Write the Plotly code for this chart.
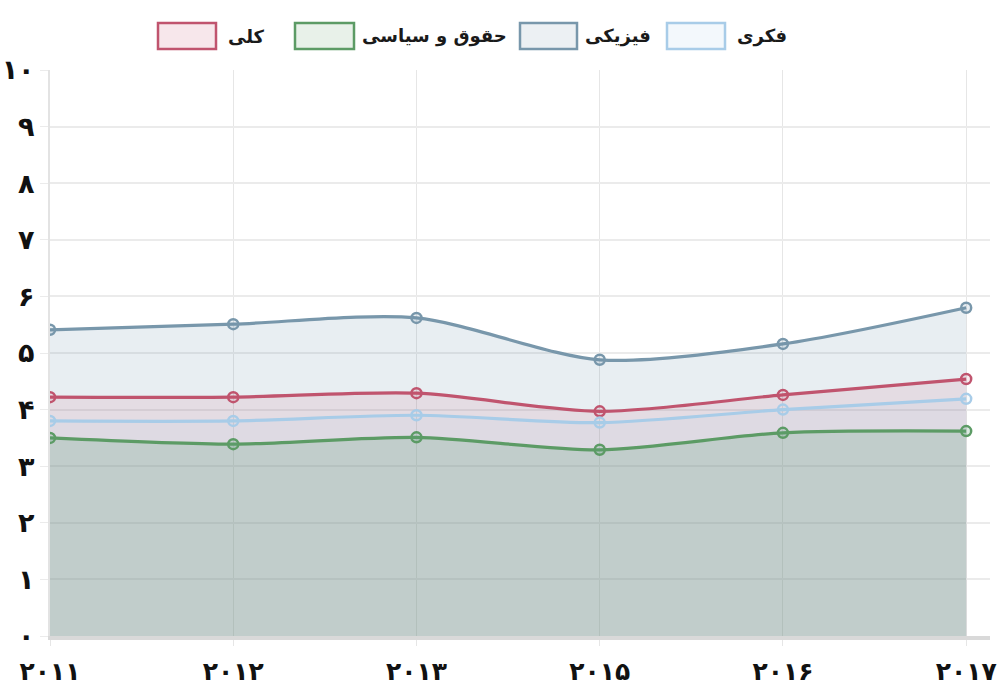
import plotly.graph_objects as go

# ---- data ----
years = ['۲۰۱۱', '۲۰۱۲', '۲۰۱۳', '۲۰۱۵', '۲۰۱۶', '۲۰۱۷']
physical = [5.41, 5.51, 5.62, 4.88, 5.16, 5.80]      # فیزیکی
overall = [4.22, 4.22, 4.29, 3.97, 4.26, 4.54]       # کلی
intellectual = [3.80, 3.80, 3.90, 3.77, 4.00, 4.19]  # فکری
legal = [3.50, 3.39, 3.51, 3.29, 3.59, 3.62]         # حقوق و سیاسی
y_tick_vals = [0, 1, 2, 3, 4, 5, 6, 7, 8, 9, 10]
y_tick_text = ['۰', '۱', '۲', '۳', '۴', '۵', '۶', '۷', '۸', '۹', '۱۰']

series = [
    ('فیزیکی', physical, '#7897ab', 'rgba(100,140,165,0.15)'),
    ('کلی', overall, '#c0546e', 'rgba(196,86,111,0.11)'),
    ('فکری', intellectual, '#a8cce8', 'rgba(150,200,235,0.08)'),
    ('حقوق و سیاسی', legal, '#5c9b65', 'rgba(90,160,118,0.22)'),
]

W, H = 998, 691
ML, MR, MT, MB = 50, 8, 70, 55
PW, PH = W - ML - MR, H - MT - MB


def px_x(x):
    return (x - ML) / PW


def px_y(y):
    return (H - MB - y) / PH


fig = go.Figure()
for name, vals, line_c, fill_c in series:
    fig.add_trace(go.Scatter(
        x=years, y=vals, name=name, mode='lines+markers',
        fill='tozeroy', fillcolor=fill_c,
        line=dict(color=line_c, width=3.2, shape='spline', smoothing=0.8),
        marker=dict(symbol='circle', size=10, color=fill_c,
                    line=dict(color=line_c, width=2.5)),
        showlegend=False, hoverinfo='x+y+name',
    ))

# legend drawn as boxes + text (matching the original box-style legend)
legend_items = [
    ('کلی', '#c0546e', 'rgba(196,86,111,0.14)', 158, 216, 226),
    ('حقوق و سیاسی', '#5c9b65', 'rgba(92,155,101,0.14)', 295, 354, 360),
    ('فیزیکی', '#7897ab', 'rgba(120,151,171,0.14)', 520, 577, 583),
    ('فکری', '#a8cce8', 'rgba(168,204,232,0.14)', 667, 725, 735),
]
shapes = []
annotations = []
for label, lc, fc, x0, x1, tx in legend_items:
    shapes.append(dict(type='rect', xref='paper', yref='paper',
                       x0=px_x(x0), x1=px_x(x1), y0=px_y(49), y1=px_y(23),
                       line=dict(color=lc, width=2.5), fillcolor=fc))
    annotations.append(dict(text=label, xref='paper', yref='paper',
                            x=px_x(tx), y=px_y(36), xanchor='left', yanchor='middle',
                            showarrow=False,
                            font=dict(family='DejaVu Sans', size=18, color='#1a1a1a',
                                      weight='bold')))

fig.update_layout(
    width=W, height=H,
    margin=dict(l=ML, r=MR, t=MT, b=MB, autoexpand=False),
    paper_bgcolor='white', plot_bgcolor='white',
    shapes=shapes, annotations=annotations,
    xaxis=dict(
        type='category', range=[0, 5.13], automargin=False,
        showgrid=True, gridcolor='#e6e6e6', gridwidth=1,
        showline=True, linecolor='#d9d9d9', linewidth=4,
        ticks='outside', ticklen=6, tickcolor='#e6e6e6', ticklabelstandoff=4,
        tickfont=dict(family='DejaVu Sans', size=25, color='#111', weight='bold'),
        zeroline=False,
    ),
    yaxis=dict(
        range=[0, 10], tickvals=y_tick_vals, ticktext=y_tick_text, automargin=False,
        showgrid=True, gridcolor='#ebebeb', gridwidth=1.5,
        showline=True, linecolor='#e3e3e3', linewidth=2,
        ticks='outside', ticklen=8, tickcolor='#ebebeb',
        tickfont=dict(family='DejaVu Sans', size=27, color='#111', weight='bold'),
        zeroline=False,
    ),
)

fig.write_html(
    'out.html',
    config={'displayModeBar': False},
    post_script="document.body.style.margin='0px';document.body.style.overflow='hidden';",
)
